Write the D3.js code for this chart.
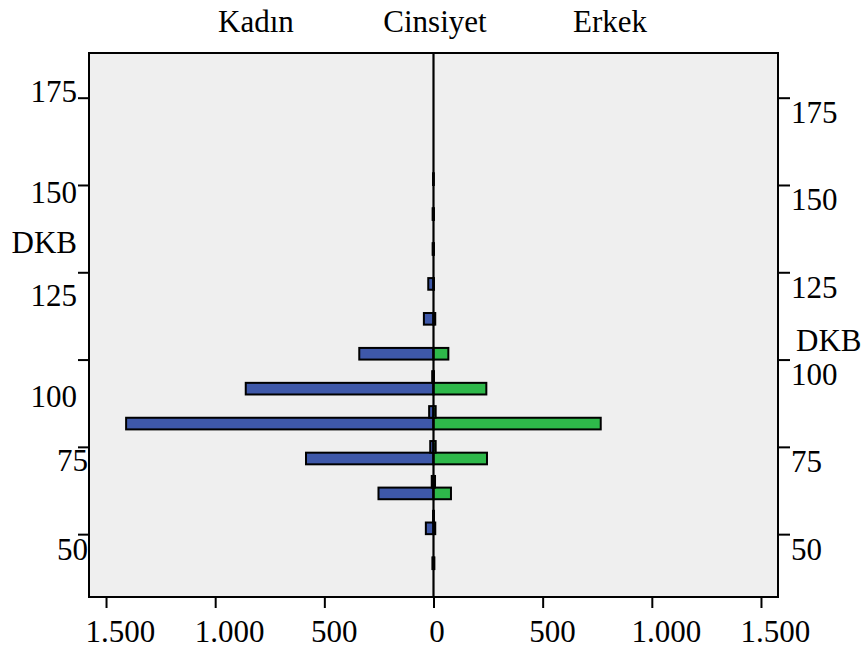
<!DOCTYPE html>
<html>
<head>
<meta charset="utf-8">
<script src="https://cdn.jsdelivr.net/npm/d3@7"></script>
<style>
  body { margin: 0; background: #ffffff; }
  svg { display: block; }
  text { font-family: "Liberation Serif", "Times New Roman", serif; fill: #000; }
</style>
</head>
<body>
<svg id="chart" width="867" height="648" font-family="Liberation Serif, Times New Roman, serif"></svg>
<script>
// DKB bins (lower edge of each interval, interval width 10/3)
const binStart = [40, 50, 53.33, 60, 63.33, 70, 73.33, 80, 83.33, 90, 93.33, 100, 110, 120, 130, 140, 150];
const binWidth = 10 / 3;
// Counts per bin
const kadin = [5, 35, 2, 252, 8, 584, 15, 1408, 20, 860, 6, 340, 44, 24, 4, 4, 2];
const erkek = [4, 8, 2, 80, 7, 245, 10, 766, 10, 242, 2, 68, 8, 2, 2, 2, 1];
// Axis ticks and titles
const yTicks = [50, 75, 100, 125, 150, 175];
const xTicks = [-1500, -1000, -500, 0, 500, 1000, 1500];
const groupTitles = ["Kadın", "Cinsiyet", "Erkek"];
const yTitle = "DKB";

const plot = { left: 89, right: 778, top: 53, bottom: 597 };
const FONT = 31;
const colorKadin = "#3e58a9";
const colorErkek = "#2eb84a";

const svg = d3.select("#chart");

const x = d3.scaleLinear().domain([-1578, 1578]).range([plot.left, plot.right]);
const y = d3.scaleLinear().domain([32, 187.8]).range([plot.bottom, plot.top]);

const nl = d3.formatLocale({ decimal: ",", thousands: ".", grouping: [3], currency: ["", ""] });
const fmt = nl.format(",d");

// plot background
svg.append("rect")
  .attr("x", plot.left).attr("y", plot.top)
  .attr("width", plot.right - plot.left).attr("height", plot.bottom - plot.top)
  .attr("fill", "#efefef");

const rows = binStart.map((b, i) => ({ b, k: kadin[i], e: erkek[i] }));
const barTop = d => y(d.b + binWidth);
const barH = d => y(d.b) - y(d.b + binWidth);

const bars = svg.append("g").attr("stroke", "#000").attr("stroke-width", 2);
bars.selectAll("rect.k").data(rows).join("rect")
  .attr("class", "k")
  .attr("x", d => x(-d.k)).attr("y", barTop)
  .attr("width", d => x(0) - x(-d.k)).attr("height", barH)
  .attr("fill", colorKadin);
bars.selectAll("rect.e").data(rows).join("rect")
  .attr("class", "e")
  .attr("x", x(0)).attr("y", barTop)
  .attr("width", d => x(d.e) - x(0)).attr("height", barH)
  .attr("fill", colorErkek);

// zero line
svg.append("line")
  .attr("x1", x(0)).attr("x2", x(0))
  .attr("y1", plot.top).attr("y2", plot.bottom)
  .attr("stroke", "#000").attr("stroke-width", 2.2);

// frame
svg.append("rect")
  .attr("x", plot.left).attr("y", plot.top)
  .attr("width", plot.right - plot.left).attr("height", plot.bottom - plot.top)
  .attr("fill", "none").attr("stroke", "#000").attr("stroke-width", 2);

function styleAxis(g) {
  g.attr("font-family", null).attr("font-size", null);
  g.select(".domain").remove();
  g.selectAll(".tick line").attr("stroke", "#000").attr("stroke-width", 2);
  g.selectAll(".tick text").attr("font-size", FONT).attr("fill", "#000").attr("dy", null);
}

// left axis (labels sit at their own offsets from the ticks)
const leftNudge = { 175: [0, 4], 150: [0, 18], 125: [0, 33], 100: [0, 47], 75: [11, 24], 50: [11, 25] };
const gl = svg.append("g").attr("transform", `translate(${plot.left},0)`)
  .call(d3.axisLeft(y).tickValues(yTicks).tickSize(11).tickFormat(d3.format("d")));
styleAxis(gl);
gl.selectAll(".tick text")
  .attr("text-anchor", "end")
  .attr("x", d => -12 + leftNudge[d][0])
  .attr("y", d => leftNudge[d][1]);

// right axis
const gr = svg.append("g").attr("transform", `translate(${plot.right},0)`)
  .call(d3.axisRight(y).tickValues(yTicks).tickSize(12).tickFormat(d3.format("d")));
styleAxis(gr);
gr.selectAll(".tick text")
  .attr("text-anchor", "start")
  .attr("x", 13).attr("y", 25);

// bottom axis
const gb = svg.append("g").attr("transform", `translate(0,${plot.bottom})`)
  .call(d3.axisBottom(x).tickValues(xTicks).tickSize(11).tickFormat(d => fmt(Math.abs(d))));
styleAxis(gb);
gb.selectAll(".tick text")
  .attr("y", 45)
  .attr("text-anchor", "start")
  .attr("x", function () { return -0.3 * this.getComputedTextLength(); });

// titles
const titleX = [256, 435, 610];
svg.selectAll("text.group").data(groupTitles).join("text")
  .attr("class", "group")
  .attr("x", (d, i) => titleX[i]).attr("y", 32)
  .attr("text-anchor", "middle").attr("font-size", FONT)
  .text(d => d);

svg.append("text").attr("x", 77).attr("y", 253)
  .attr("text-anchor", "end").attr("font-size", FONT).text(yTitle);
svg.append("text").attr("x", 796).attr("y", 351)
  .attr("text-anchor", "start").attr("font-size", FONT).text(yTitle);
</script>
</body>
</html>
